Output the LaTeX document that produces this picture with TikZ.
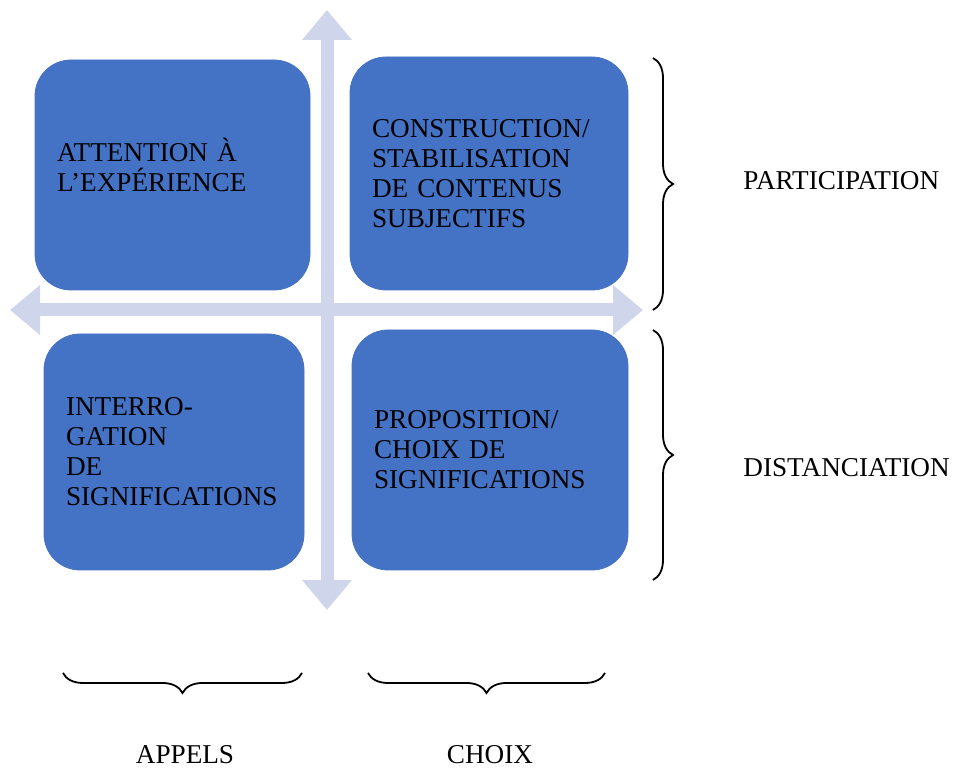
\documentclass[tikz,border=0pt]{standalone}
\usepackage{fontspec}
\setmainfont{Liberation Serif}
\usepackage{tikz}
\usetikzlibrary{arrows.meta,positioning,decorations.pathreplacing}
\definecolor{boxblue}{RGB}{68,114,196}
\definecolor{axislav}{RGB}{207,213,234}

\begin{document}
\begin{tikzpicture}[x=0.5pt,y=-0.5pt,>=Stealth, every node/.style={font=\fontsize{13.6}{15}\selectfont}]
    % Styles
    \tikzset{quad/.style    ={fill=boxblue,draw=boxblue,rounded corners=18pt,align=left,inner xsep=11pt,inner ysep=4pt}}
    \tikzset{axis/.style    ={draw=axislav,line width=6.5pt,{Triangle[length=15pt,width=24pt]}-{Triangle[length=15pt,width=24pt]}}}
    \tikzset{bracket/.style ={draw=black,line width=0.9pt,decorate,decoration={brace,amplitude=10pt}}}
    \tikzset{sidetext/.style={anchor=west,inner sep=0pt}}

    \useasboundingbox (0,0) rectangle (955,769);

    % Cross
    \coordinate (north) at (327,10);
    \coordinate (south) at (327,610);
    \coordinate (west)  at (10,310);
    \coordinate (east)  at (643,310);
    \draw[axis] (south) -- (north);
    \draw[axis] (west) -- (east);

    % Quadrants
    \node[quad,text width=115.5pt,minimum height=115pt] (attention) at (172.5,175)
        {ATTENTION À\\L’EXPÉRIENCE\\[-5pt]\mbox{}};
    \node[quad,text width=117pt,minimum height=116.5pt] (construction) at (489,173.5)
        {CONSTRUCTION/\\STABILISATION\\DE CONTENUS\\SUBJECTIFS};
    \node[quad,text width=108pt,minimum height=118pt] (interrogation) at (174,452)
        {INTERRO-\\GATION\\DE\\SIGNIFICATIONS};
    \node[quad,text width=116pt,minimum height=120pt] (proposition) at (490,450)
        {PROPOSITION/\\CHOIX DE\\SIGNIFICATIONS};

    % Right braces
    \coordinate (parttop) at (653,58);
    \coordinate (partbot) at (653,310);
    \coordinate (disttop) at (653,330);
    \coordinate (distbot) at (653,580);
    \draw[bracket] (parttop) -- (partbot);
    \draw[bracket] (disttop) -- (distbot);
    \node[sidetext] (participation) at (743,181) {PARTICIPATION};
    \node[sidetext] (distanciation) at (743,468) {DISTANCIATION};

    % Bottom braces
    \coordinate (appright) at (302,673);
    \coordinate (appleft)  at (63,673);
    \coordinate (choright) at (605,673);
    \coordinate (choleft)  at (368,673);
    \draw[bracket] (appright) -- (appleft);
    \draw[bracket] (choright) -- (choleft);
    \node (appels) at (185,755) {APPELS};
    \node (choix)  at (490,755) {CHOIX};
\end{tikzpicture}
\end{document}
